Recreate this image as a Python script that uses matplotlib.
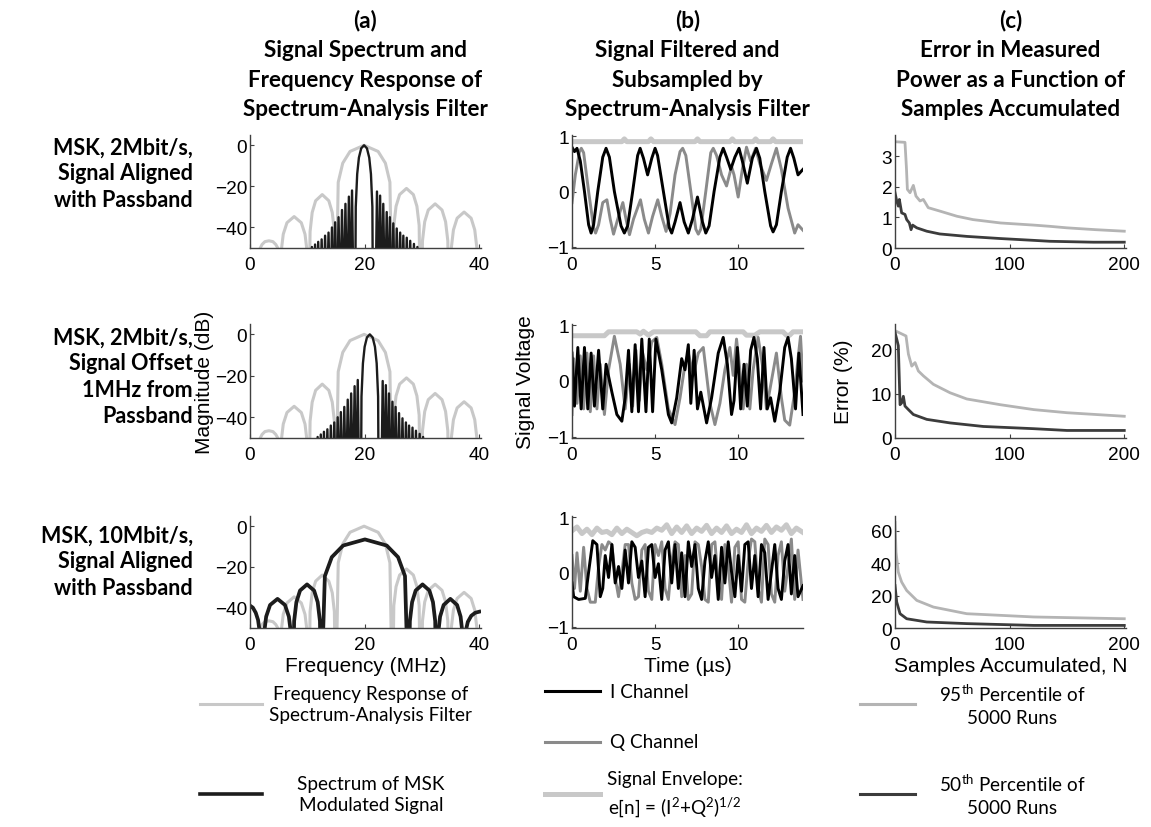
import matplotlib
matplotlib.use('Agg')
import matplotlib.pyplot as plt
from matplotlib.lines import Line2D

plt.rcParams['font.family'] = ['Liberation Sans', 'DejaVu Sans']
plt.rcParams['mathtext.fontset'] = 'custom'
plt.rcParams['mathtext.rm'] = 'Lato'
plt.rcParams['mathtext.it'] = 'Lato:italic'
plt.rcParams['mathtext.bf'] = 'Lato:bold'

###### data
# (a) filter frequency response (same in all rows), dB vs MHz
filt_f = [0.0, 1.5,
          1.7, 2.1, 2.6, 3.3, 4.0, 4.5, 4.95, 5.1,
          5.2, 5.4, 5.8, 6.45, 7.7, 8.95, 9.6, 10.0, 10.2,
          10.3, 10.48, 10.85, 11.45, 12.6, 13.75, 14.35, 14.72, 14.9,
          15.0, 15.39, 16.18, 17.45, 19.9, 22.35, 23.62, 24.41, 24.8,
          24.9, 25.09, 25.48, 26.1, 27.3, 28.5, 29.12, 29.51, 29.7,
          29.9, 30.09, 30.48, 31.1, 32.3, 33.5, 34.12, 34.51, 34.7,
          34.9, 35.1, 35.49, 36.13, 37.35, 38.58, 39.21, 39.6, 39.8, 40.3]
filt_db = [-80, -80,
           -50.5, -48.3, -46.9, -46.5, -46.9, -48.3, -50.5, -80,
           -80, -52.7, -43.3, -37.7, -34.7, -37.7, -43.3, -52.7, -80,
           -80, -42.0, -32.7, -27.0, -24.0, -27.0, -32.7, -42.0, -80,
           -80, -18.0, -8.7, -3.0, 0.0, -3.0, -8.7, -18.0, -80,
           -80, -39.0, -29.7, -24.0, -21.0, -24.0, -29.7, -39.0, -80,
           -80, -46.5, -37.2, -31.5, -28.5, -31.5, -37.2, -46.5, -80,
           -80, -50.5, -41.2, -35.5, -32.5, -35.5, -41.2, -50.5, -80, -80]

# (a) MSK 2Mbit/s spectrum, aligned
spec1_f = [10.5, 10.8, 11.07, 11.35, 11.62, 11.9, 12.2, 12.5, 12.8, 13.1, 13.4, 13.7, 14.0,
           14.3, 14.57, 14.85, 15.15, 15.45, 15.75, 16.05, 16.35, 16.65, 16.95, 17.25, 17.52,
           17.8, 18.08,
           18.35, 18.45, 18.7, 19.0, 19.4, 19.9, 20.4, 20.8, 21.1, 21.35, 21.45,
           21.88, 22.15, 22.42, 22.7, 22.97, 23.25, 23.55, 23.85, 24.12, 24.4, 24.7, 25.0, 25.3,
           25.6, 25.9, 26.2, 26.47, 26.75, 27.05, 27.35, 27.65, 27.95, 28.27, 28.6, 28.9, 29.2, 29.5]
spec1_db = [-80, -49.5, -80, -48.3, -80, -47.0, -80, -45.8, -80, -44.0, -80, -42.5, -80,
            -40.0, -80, -37.5, -80, -35.0, -80, -31.5, -80, -28.5, -80, -25.0, -80,
            -22.0, -80,
            -80, -30, -14, -6, -1.5, 0, -1.5, -6, -14, -30, -80,
            -80, -22.5, -80, -24.5, -80, -28.5, -80, -32.5, -80, -35.0, -80, -38.0, -80,
            -40.5, -80, -42.5, -80, -44.0, -80, -45.0, -80, -46.5, -80, -48.0, -80, -49.5, -80]
offset2_mhz = 1.0   # row 2: signal offset 1 MHz from passband

# (a) MSK 10Mbit/s spectrum
spec3_f = [0.0, 0.5, 1.0, 1.4, 1.7, 1.85,
           2.2, 2.41, 2.82, 3.5, 4.8, 6.1, 6.78, 7.19, 7.4,
           7.5, 7.7, 8.09, 8.73, 9.95, 11.18, 11.81, 12.2, 12.4,
           12.45, 13.06, 14.27, 16.25, 20.05, 23.85, 25.83, 27.04, 27.6,
           27.7, 27.89, 28.28, 28.9, 30.1, 31.3, 31.92, 32.31, 32.5,
           32.6, 32.79, 33.16, 33.78, 34.95, 36.13, 36.74, 37.11, 37.3,
           37.4, 37.6, 38.0, 38.6, 39.3, 40.0]
spec3_db = [-39, -40, -42.5, -46, -52, -80,
            -80, -53.7, -44.4, -38.7, -35.7, -38.7, -44.4, -53.7, -80,
            -80, -46.6, -37.3, -31.6, -28.6, -31.6, -37.3, -46.6, -80,
            -80, -24.5, -15.2, -9.5, -6.5, -9.5, -15.2, -24.5, -80,
            -80, -46.6, -37.3, -31.6, -28.6, -31.6, -37.3, -46.6, -80,
            -80, -53.7, -44.4, -38.7, -35.7, -38.7, -44.4, -53.7, -80,
            -80, -52, -47, -44, -42.5, -42]

# (b) row 1 time signals (us, V)
i1_t = [0, 0.15, 0.3, 0.5, 0.75, 1.0, 1.15, 1.3, 1.55, 1.85, 2.05, 2.25, 2.55, 2.95, 3.15, 3.35,
        3.65, 3.95, 4.1, 4.3, 4.55, 4.8, 5.0, 5.15, 5.5, 5.85, 6.0, 6.2, 6.5, 6.75, 7.0, 7.25,
        7.55, 7.85, 8.05, 8.25, 8.55, 8.9, 9.1, 9.3, 9.55, 9.8, 10.05, 10.25, 10.55, 10.85,
        11.1, 11.3, 11.6, 11.95, 12.1, 12.3, 12.6, 12.95, 13.15, 13.35, 13.6, 13.9]
i1_v = [0.8, 0.72, 0.78, 0.55, 0.0, -0.6, -0.75, -0.6, 0.0, 0.62, 0.78, 0.62, 0.0, -0.62, -0.75, -0.62,
        0.0, 0.65, 0.78, 0.6, 0.3, 0.6, 0.78, 0.65, 0.0, -0.65, -0.75, -0.55, -0.2, -0.55, -0.75, -0.5,
        -0.1, -0.55, -0.75, -0.62, 0.0, 0.62, 0.78, 0.62, 0.4, 0.62, 0.78, 0.55, 0.15, 0.6,
        0.78, 0.6, 0.0, -0.62, -0.73, -0.6, 0.0, 0.62, 0.78, 0.6, 0.3, 0.4]
q1_t = [0, 0.2, 0.45, 0.56, 0.7, 1.0, 1.3, 1.42, 1.6, 1.85, 2.1, 2.3, 2.5, 2.75, 3.06, 3.25, 3.46,
        3.7, 4.12, 4.35, 4.6, 4.85, 5.16, 5.4, 5.66, 5.9, 6.2, 6.5, 6.66, 6.85, 7.15, 7.45, 7.6,
        7.75, 8.05, 8.35, 8.5, 8.7, 9.0, 9.3, 9.6, 9.75, 10.0, 10.25, 10.5, 10.75, 11.05, 11.3,
        11.7, 12.0, 12.3, 12.6, 13.0, 13.4, 13.6, 13.9]
q1_v = [-0.2, 0.3, 0.72, 0.78, 0.7, 0.0, -0.65, -0.75, -0.6, -0.2, -0.15, -0.5, -0.77, -0.5, -0.2, -0.5, -0.78,
        -0.5, -0.15, -0.5, -0.75, -0.45, -0.15, -0.45, -0.72, -0.4, 0.3, 0.72, 0.78, 0.65, 0.0, -0.68, -0.77,
        -0.68, 0.0, 0.7, 0.78, 0.65, 0.3, 0.1, 0.45, 0.3, -0.1, 0.4, 0.8, 0.55, 0.78, 0.5,
        0.2, 0.5, 0.78, 0.4, -0.3, -0.75, -0.6, -0.7]
e1_t = [0, 3.0, 3.15, 3.3, 4.6, 4.75, 4.9, 7.4, 7.55, 7.7, 9.5, 9.65, 9.8, 10.9, 11.05, 11.2, 11.95, 12.1, 12.25, 13.9]
e1_v = [0.9, 0.9, 0.95, 0.9, 0.9, 0.95, 0.9, 0.9, 0.95, 0.9, 0.9, 0.95, 0.9, 0.9, 0.95, 0.9, 0.9, 0.95, 0.9, 0.9]

# (b) row 2
i2_t = [0, 0.15, 0.35, 0.55, 0.75, 0.95, 1.15, 1.35, 1.6, 1.85, 2.05, 2.4, 2.7, 3.0, 3.2, 3.4, 3.6,
        3.8, 4.0, 4.2, 4.45, 4.65, 4.85, 5.05, 5.4, 5.8, 6.0, 6.3, 6.6, 6.8, 7.0, 7.15, 7.35, 7.55,
        7.75, 8.1, 8.4, 8.8, 9.1, 9.35, 9.6, 9.75, 9.95, 10.15, 10.35, 10.55, 10.75, 10.95, 11.15,
        11.35, 11.55, 11.75, 11.95, 12.2, 12.5, 12.8, 13.0, 13.2, 13.45, 13.65, 13.9]
i2_v = [0.5, -0.45, 0.6, -0.5, 0.6, -0.5, 0.5, -0.45, 0.55, -0.5, 0.3, -0.2, -0.6, -0.72, -0.3, 0.55, -0.55,
        0.65, -0.55, 0.75, -0.55, 0.75, -0.55, 0.75, 0.2, -0.6, -0.75, -0.3, 0.4, 0.2, 0.65, -0.4, 0.55, -0.5,
        -0.2, -0.75, -0.3, 0.5, 0.78, 0.3, -0.6, -0.35, 0.6, -0.5, 0.3, -0.45, 0.55, 0.78, 0.4,
        -0.5, 0.6, -0.5, -0.3, -0.72, -0.2, 0.6, 0.78, 0.4, -0.5, 0.5, -0.6]
q2_t = [0, 0.1, 0.3, 0.5, 0.7, 0.9, 1.1, 1.3, 1.5, 1.7, 1.95, 2.2, 2.55, 2.9, 3.2, 3.45, 3.65, 3.85,
        4.05, 4.25, 4.5, 4.8, 5.1, 5.4, 5.8, 6.2, 6.5, 6.8, 7.0, 7.3, 7.6, 7.9, 8.3, 8.6, 8.9, 9.2,
        9.5, 9.7, 9.9, 10.1, 10.3, 10.5, 10.7, 10.9, 11.2, 11.5, 11.7, 12.0, 12.3, 12.6, 12.8, 13.1,
        13.4, 13.6, 13.75, 13.9]
q2_v = [-0.6, 0.4, -0.4, 0.45, -0.5, 0.5, -0.55, 0.45, -0.5, 0.3, -0.6, 0.2, 0.8, 0.3, -0.5, 0.3, -0.45, 0.55,
        -0.35, 0.5, 0.2, 0.7, 0.78, 0.3, -0.5, -0.78, -0.3, 0.3, 0.5, 0.1, 0.5, 0.6, -0.4, -0.78, -0.4, 0.2,
        0.6, 0.1, 0.75, 0.2, -0.5, 0.3, -0.5, 0.2, 0.78, 0.2, -0.5, 0.0, 0.5, -0.3, -0.7, -0.79,
        -0.2, 0.4, 0.8, 0.0]
e2_t = [0, 1.95, 2.2, 3.9, 4.1, 4.3, 4.6, 4.9, 7.45, 7.7, 8.1, 8.3, 10.3, 10.5, 11.0, 11.3, 12.7, 12.9, 13.1, 13.3, 13.9]
e2_v = [0.81, 0.81, 0.88, 0.88, 0.84, 0.89, 0.82, 0.88, 0.88, 0.81, 0.81, 0.88, 0.88, 0.82, 0.82, 0.88, 0.88, 0.82, 0.82, 0.88, 0.88]

# (b) row 3
i3_t = [0, 0.1, 0.4, 0.8, 1.0, 1.25, 1.5, 1.7, 1.85, 2.0, 2.2, 2.4, 2.6, 2.8, 3.0, 3.2, 3.4, 3.6, 3.8,
        4.0, 4.2, 4.4, 4.6, 4.8, 5.0, 5.2, 5.4, 5.6, 5.8, 6.0, 6.2, 6.4, 6.6, 6.8, 7.0, 7.2, 7.4, 7.6,
        7.8, 8.0, 8.2, 8.4, 8.6, 8.8, 9.0, 9.2, 9.4, 9.6, 9.8, 10.0, 10.2, 10.4, 10.6, 10.8, 11.0,
        11.2, 11.4, 11.6, 11.8, 12.0, 12.2, 12.4, 12.6, 12.8, 13.0, 13.2, 13.4, 13.6, 13.9]
i3_v = [-0.2, -0.45, -0.5, -0.48, 0.0, 0.57, 0.5, -0.45, -0.3, 0.3, -0.1, 0.5, -0.2, 0.1, -0.3, 0.4, -0.2, 0.55, 0.45,
        -0.1, 0.2, -0.45, 0.45, 0.5, -0.1, 0.15, -0.5, 0.4, 0.55, -0.2, 0.5, -0.3, 0.35, -0.45, 0.55, 0.1, 0.5, -0.3,
        -0.5, 0.2, 0.55, -0.1, 0.3, -0.5, 0.45, -0.2, 0.55, 0.0, -0.45, 0.3, -0.35, 0.5, 0.55, -0.3, 0.3,
        -0.45, 0.5, 0.35, -0.5, 0.0, 0.5, -0.3, -0.5, 0.2, 0.5, -0.4, 0.3, -0.45, -0.25]
q3_t = [0, 0.15, 0.3, 0.5, 0.7, 0.9, 1.1, 1.4, 1.6, 1.8, 2.0, 2.2, 2.4, 2.6, 2.8, 3.0, 3.2, 3.4, 3.6,
        3.8, 4.0, 4.2, 4.4, 4.6, 4.8, 5.0, 5.2, 5.4, 5.6, 5.8, 6.0, 6.2, 6.4, 6.6, 6.8, 7.0, 7.2, 7.4,
        7.6, 7.8, 8.0, 8.2, 8.4, 8.6, 8.8, 9.0, 9.2, 9.4, 9.6, 9.8, 10.0, 10.2, 10.4, 10.6, 10.8, 11.0,
        11.2, 11.4, 11.6, 11.8, 12.0, 12.2, 12.4, 12.6, 12.8, 13.0, 13.2, 13.4, 13.6, 13.9]
q3_v = [0.3, -0.3, 0.35, -0.35, 0.45, -0.3, -0.55, -0.55, 0.1, 0.5, 0.4, 0.55, 0.5, -0.1, -0.45, 0.0, 0.5, 0.5, -0.2,
        -0.5, -0.45, 0.4, 0.5, -0.35, -0.5, 0.5, 0.3, 0.55, -0.3, -0.5, 0.2, 0.55, 0.5, -0.45, 0.3, -0.5, -0.4, 0.55,
        0.5, 0.1, -0.5, -0.55, 0.5, 0.55, -0.2, -0.5, 0.5, 0.1, -0.55, 0.45, 0.55, -0.5, -0.55, 0.2, 0.6, 0.55,
        -0.3, -0.55, 0.6, 0.5, -0.4, -0.55, 0.3, 0.55, -0.35, 0.1, 0.6, -0.5, 0.4, -0.5]
e3_t = [0, 0.3, 0.6, 0.9, 1.2, 1.5, 1.8, 2.1, 2.4, 2.7, 3.0, 3.3, 3.6, 3.9, 4.2, 4.5, 4.8, 5.1, 5.4, 5.7,
        6.0, 6.3, 6.6, 6.9, 7.2, 7.5, 7.8, 8.1, 8.4, 8.7, 9.0, 9.3, 9.6, 9.9, 10.2, 10.5, 10.8, 11.1,
        11.4, 11.7, 12.0, 12.3, 12.6, 12.9, 13.2, 13.5, 13.9]
e3_v = [0.75, 0.82, 0.7, 0.78, 0.68, 0.8, 0.72, 0.74, 0.68, 0.8, 0.7, 0.78, 0.72, 0.66, 0.72, 0.75, 0.72, 0.8,
        0.76, 0.86, 0.7, 0.82, 0.72, 0.84, 0.7, 0.8, 0.74, 0.85, 0.7, 0.8, 0.72, 0.84, 0.7, 0.78, 0.72,
        0.86, 0.7, 0.8, 0.74, 0.85, 0.72, 0.82, 0.76, 0.86, 0.7, 0.8, 0.72]

# (c) error (%) vs samples accumulated
p95_1_n = [0, 8.7, 10.0, 10.8, 13.1, 16, 18.3, 21.8, 24.7, 29, 39, 54, 68, 92, 121, 135, 150, 175, 200]
p95_1_v = [3.48, 3.46, 2.6, 1.92, 1.81, 2.05, 1.70, 1.54, 1.59, 1.32, 1.21, 1.04, 0.93, 0.82, 0.75, 0.71, 0.66, 0.6, 0.55]
p50_1_n = [0, 1.5, 2.9, 3.8, 5.8, 8.7, 10.2, 12.5, 14, 15.4, 19, 27.7, 39, 62.6, 91.7, 121, 135, 173, 200]
p50_1_v = [1.81, 1.54, 1.37, 1.59, 1.15, 1.10, 0.93, 0.82, 0.60, 0.75, 0.66, 0.55, 0.46, 0.38, 0.31, 0.25, 0.22, 0.19, 0.19]
p95_2_n = [0, 9.6, 11.7, 14.6, 17.5, 20.4, 24.8, 33.5, 48, 62.6, 92, 121, 150, 200]
p95_2_v = [24.2, 23.0, 18.9, 16.2, 17.0, 15.1, 14.0, 12.1, 10.2, 8.8, 7.5, 6.4, 5.7, 4.9]
p50_2_n = [0, 1.5, 2.9, 4.4, 5.8, 7.3, 8.7, 11.7, 16, 27.7, 48, 77, 121, 150, 200]
p50_2_v = [23.8, 22.3, 20.8, 7.5, 7.9, 9.4, 7.2, 6.4, 5.3, 4.2, 3.4, 2.6, 2.1, 1.7, 1.7]
p95_3_n = [0, 0.9, 2.9, 5.8, 10.2, 19, 33.5, 62.6, 92, 121, 200]
p95_3_v = [65, 46.7, 34.4, 28.3, 23.1, 17.0, 12.9, 8.8, 7.8, 6.8, 5.7]
p50_3_n = [0, 1.5, 4.4, 10.2, 27.7, 62.6, 121, 200]
p50_3_v = [26.2, 16, 8.8, 5.7, 3.7, 2.7, 1.6, 1.6]

col_titles = ['(a)\nSignal Spectrum and\nFrequency Response of\nSpectrum-Analysis Filter',
              '(b)\nSignal Filtered and\nSubsampled by\nSpectrum-Analysis Filter',
              '(c)\nError in Measured\nPower as a Function of\nSamples Accumulated']
row_labels = ['MSK, 2Mbit/s,\nSignal Aligned\nwith Passband',
              'MSK, 2Mbit/s,\nSignal Offset\n1MHz from\nPassband',
              'MSK, 10Mbit/s,\nSignal Aligned\nwith Passband']
err_ylims = [3.7, 25.7, 69]
err_yticks = [[0, 1, 2, 3], [0, 10, 20], [0, 20, 40, 60]]

###### colours
LIGHT = '#c8c8c8'
P95 = '#b4b4b4'
SPEC = '#1c1c1c'
I_COL = '#000000'
Q_COL = '#8a8a8a'
P50 = '#3c3c3c'

###### layout (pixels)
W, H = 1151, 828
fig = plt.figure(figsize=(W / 100, H / 100), dpi=100)
cols_px = [(250, 481), (572, 803), (895, 1126)]
rows_px = [(136, 249), (325, 439), (517, 629)]
row_label_y = [174, 377, 562]

def add_ax(col, row):
    l, r = cols_px[col]
    t, b = rows_px[row]
    ax = fig.add_axes([l / W, 1 - b / H, (r - l) / W, (b - t) / H])
    for s in ['top', 'right']:
        ax.spines[s].set_visible(False)
    for s in ['left', 'bottom']:
        ax.spines[s].set_color('#404040')
        ax.spines[s].set_linewidth(1.0)
    ax.tick_params(direction='in', length=3, width=0.8, labelsize=13.7, colors='#404040',
                   labelcolor='black')
    ax.tick_params(axis='x', pad=6)
    ax.tick_params(axis='y', pad=2)
    return ax

axes = [[add_ax(c, r) for c in range(3)] for r in range(3)]

spec_rows = [(spec1_f, spec1_db), ([f + offset2_mhz for f in spec1_f], spec1_db), (spec3_f, spec3_db)]
spec_lw = [1.7, 1.7, 2.7]
time_rows = [(i1_t, i1_v, q1_t, q1_v, e1_t, e1_v),
             (i2_t, i2_v, q2_t, q2_v, e2_t, e2_v),
             (i3_t, i3_v, q3_t, q3_v, e3_t, e3_v)]
err_rows = [(p95_1_n, p95_1_v, p50_1_n, p50_1_v),
            (p95_2_n, p95_2_v, p50_2_n, p50_2_v),
            (p95_3_n, p95_3_v, p50_3_n, p50_3_v)]

for r in range(3):
    ax = axes[r][0]
    ax.plot(filt_f, filt_db, color=LIGHT, lw=2.2)
    ax.plot(spec_rows[r][0], spec_rows[r][1], color=SPEC, lw=spec_lw[r])
    ax.set_xlim(0, 40.3)
    ax.set_ylim(-50, 5)
    ax.set_xticks([0, 20, 40])
    ax.set_yticks([0, -20, -40])

    ax = axes[r][1]
    it, iv, qt, qv, et, ev = time_rows[r]
    ax.plot(et, ev, color=LIGHT, lw=3.6)
    ax.plot(qt, qv, color=Q_COL, lw=2.1)
    ax.plot(it, iv, color=I_COL, lw=2.1)
    ax.set_xlim(0, 13.9)
    ax.set_ylim(-1.02, 1.02)
    ax.set_xticks([0, 5, 10])
    ax.set_yticks([-1, 0, 1])

    ax = axes[r][2]
    n95, v95, n50, v50 = err_rows[r]
    ax.plot(n95, v95, color=P95, lw=2.0)
    ax.plot(n50, v50, color=P50, lw=2.0)
    ax.set_xlim(0, 201.5)
    ax.set_ylim(0, err_ylims[r])
    ax.set_xticks([0, 100, 200])
    ax.set_yticks(err_yticks[r])

axes[1][0].set_ylabel('Magnitude (dB)', fontsize=15)
axes[1][1].set_ylabel('Signal Voltage', fontsize=15)
axes[1][2].set_ylabel('Error (%)', fontsize=15)
axes[1][0].yaxis.set_label_coords(-0.155, 0.5)
axes[1][1].yaxis.set_label_coords(-0.16, 0.5)
axes[1][2].yaxis.set_label_coords(-0.182, 0.5)
axes[2][0].set_xlabel('Frequency (MHz)', fontsize=15, labelpad=2)
axes[2][1].set_xlabel('Time (µs)', fontsize=15, labelpad=2)
axes[2][2].set_xlabel('Samples Accumulated, N', fontsize=15, labelpad=2)

# column titles and row labels
title_font = dict(family=['Lato', 'DejaVu Sans'], fontweight='bold', fontsize=16.2)
for c, txt in enumerate(col_titles):
    xc = (cols_px[c][0] + cols_px[c][1]) / 2 / W
    fig.text(xc, 1 - 10 / H, txt, ha='center', va='top', linespacing=1.5, **title_font)
label_font = dict(family=['Lato', 'DejaVu Sans'], fontweight='bold', fontsize=15.5)
for r, txt in enumerate(row_labels):
    fig.text(193 / W, 1 - row_label_y[r] / H, txt, ha='right', va='center', linespacing=1.3,
             **label_font)

# legends under each column
leg_font = dict(family=['Lato', 'DejaVu Sans'], fontsize=13.6, linespacing=1.35)
legend_items = [
    [(200, 262, 705, LIGHT, 2.2, 371, 'Frequency Response of\nSpectrum-Analysis Filter', 'center'),
     (200, 262, 795, SPEC, 2.6, 371, 'Spectrum of MSK\nModulated Signal', 'center')],
    [(545, 600, 692, I_COL, 2.2, 610, 'I Channel', 'left'),
     (545, 600, 743, Q_COL, 2.2, 610, 'Q Channel', 'left'),
     (545, 600, 795, LIGHT, 3.6, 675, 'Signal Envelope:\ne[n] = (I$^2$+Q$^2$)$^{1/2}$', 'center')],
    [(860, 915, 705, P95, 2.2, 1012, '95$^{\\mathrm{th}}$ Percentile of\n5000 Runs', 'center'),
     (860, 915, 795, P50, 2.2, 1012, '50$^{\\mathrm{th}}$ Percentile of\n5000 Runs', 'center')],
]
for items in legend_items:
    for x0, x1, y, color, lw, tx, label, ha in items:
        fig.add_artist(Line2D([x0 / W, x1 / W], [1 - y / H, 1 - y / H], color=color, lw=lw,
                              transform=fig.transFigure))
        fig.text(tx / W, 1 - y / H, label, ha=ha, va='center', multialignment='center', **leg_font)

fig.savefig('out.png', dpi=100)
